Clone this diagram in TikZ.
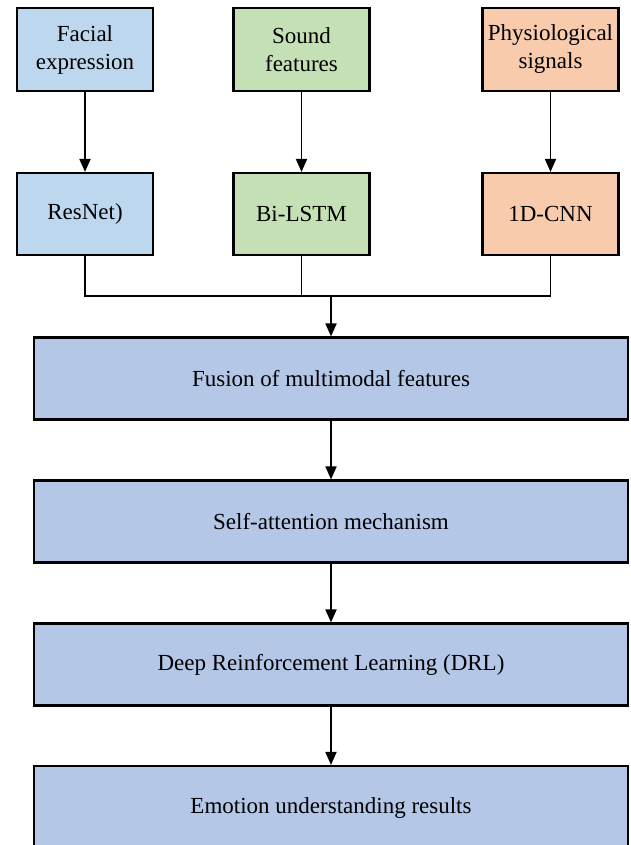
\documentclass[tikz,border=0pt]{standalone}
\usepackage{fontspec}
\setmainfont{Liberation Serif}
\usetikzlibrary{arrows.meta}
\definecolor{cblue}{HTML}{BDD7EE}
\definecolor{cgreen}{HTML}{C5E0B4}
\definecolor{corange}{HTML}{F8CBAD}
\definecolor{cbig}{HTML}{B4C7E7}
\begin{document}
\begin{tikzpicture}[x=1pt,y=1pt,
  box/.style={draw=black,line width=2.1pt,rectangle,align=center,inner sep=2pt,
    font=\fontsize{23}{28}\selectfont},
  smallbox/.style={box,minimum width=136pt,minimum height=83pt},
  bigbox/.style={box,fill=cbig,minimum width=594pt,minimum height=82pt},
  conn/.style={line width=1.8pt},
  arr/.style={conn,-{Triangle[length=13pt,width=11pt]}}]
\useasboundingbox (0,0) rectangle (630,-845);
\clip (0,0) rectangle (630,-845);
\node[smallbox,fill=cblue]   (fe)  at (85,-49.5)   {Facial\\expression};
\node[smallbox,fill=cgreen]  (sf)  at (301.5,-49.5) {Sound\\features};
\node[smallbox,fill=corange] (ps)  at (550.5,-49.5) {Physiological\\signals};
\node[smallbox,fill=cblue,minimum height=82pt]   (rn)  at (85,-214)    {ResNet)};
\node[smallbox,fill=cgreen,minimum height=82pt]  (bl)  at (301.5,-214) {Bi-LSTM};
\node[smallbox,fill=corange,minimum height=82pt] (cn)  at (550.5,-214) {1D-CNN};
\node[bigbox] (fu) at (331,-378.5) {Fusion of multimodal features};
\node[bigbox] (sa) at (331,-521.5) {Self-attention mechanism};
\node[bigbox] (dr) at (331,-664.5) {Deep Reinforcement Learning (DRL)};
\node[bigbox,minimum height=83pt] (em) at (331,-807.5) {Emotion understanding results};
\coordinate (j) at (331,-296);
\draw[arr] (fe) -- (rn);
\draw[arr] (sf) -- (bl);
\draw[arr] (ps) -- (cn);
\draw[conn] (rn.south) |- (j);
\draw[conn] (cn.south) |- (j);
\draw[conn] (bl.south) -- (bl.south |- j);
\draw[arr] (j) -- (fu.north);
\draw[arr] (fu) -- (sa);
\draw[arr] (sa) -- (dr);
\draw[arr] (dr) -- (em);
\end{tikzpicture}
\end{document}
